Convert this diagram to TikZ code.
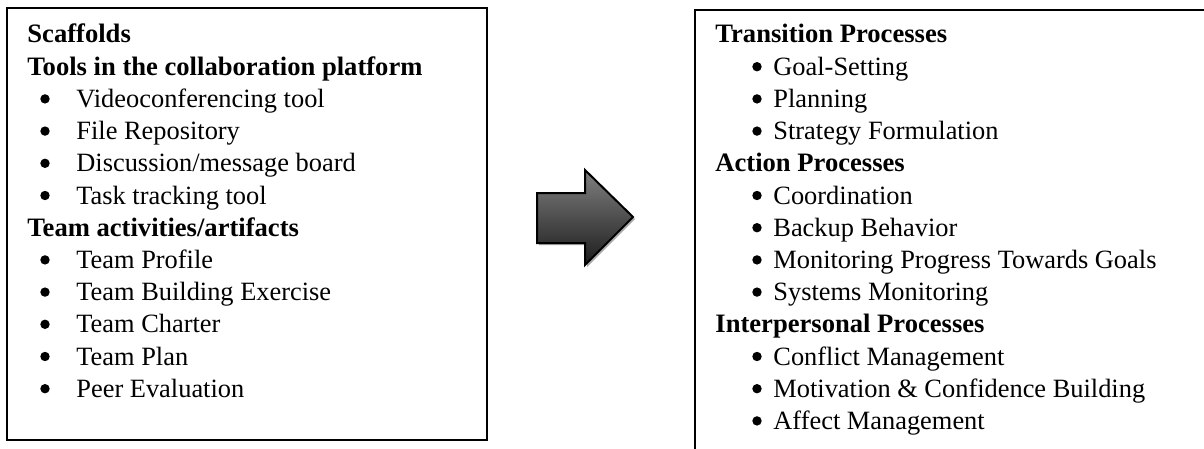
\documentclass[tikz,border=0pt]{standalone}
\usepackage{fontspec}
\setmainfont{Liberation Serif}
\usetikzlibrary{positioning}
\definecolor{arrowtop}{RGB}{128,128,128}
\definecolor{arrowbot}{RGB}{28,28,28}
\definecolor{shadowgray}{RGB}{170,170,170}

\begin{document}
\begin{tikzpicture}[x=0.5pt, y=-0.5pt,
  frame/.style={draw=black, line width=1.1pt},
  head/.style={anchor=base west, inner sep=0pt, font=\fontsize{13.3}{15}\selectfont\bfseries},
  item/.style={anchor=base west, inner sep=0pt, font=\fontsize{13.2}{15}\selectfont},
  dot/.style={circle, fill=black, inner sep=0pt, minimum size=4.7pt}]
  \useasboundingbox (0,0) rectangle (1204,449);
  % left box: scaffolds
  \draw[frame] (7,8) rectangle (487,440);
  \node[head] (scaf) at (27,43) {Scaffolds};
  \node[head] (tools) at (27,75.2) {Tools in the collaboration platform};
  \foreach \txt [count=\k] in {Videoconferencing tool, File Repository,
      Discussion/message board, Task tracking tool} {
    \node[dot] (tb\k) at (45,{34.5+32.2*(1+\k)}) {};
    \node[item] (tool\k) at (76,{43+32.2*(1+\k)}) {\txt};
  }
  \node[head] (team) at (27,236.2) {Team activities/artifacts};
  \foreach \txt [count=\k] in {Team Profile, Team Building Exercise,
      Team Charter, Team Plan, Peer Evaluation} {
    \node[dot] (ab\k) at (45,{34.5+32.2*(6+\k)}) {};
    \node[item] (act\k) at (76,{43+32.2*(6+\k)}) {\txt};
  }
  % block arrow
  \fill[shadowgray] (539,195) -- (587,195) -- (587,172) -- (635,219)
    -- (587,267) -- (587,245) -- (539,245) -- cycle;
  \path[draw=black, line width=1pt, top color=arrowtop, bottom color=arrowbot]
    (537,193) -- (585,193) -- (585,170) -- (633,217) -- (585,265)
    -- (585,243) -- (537,243) -- cycle;
  % right box: team processes (runs off the page)
  \draw[frame] (1204,10) -- (695,10) -- (695,449);
  \node[head] (trans) at (715,43) {Transition Processes};
  \foreach \txt [count=\k] in {Goal-Setting, Planning, Strategy Formulation} {
    \node[dot] (rb\k) at (757,{34.5+32.2*\k}) {};
    \node[item] (tr\k) at (773,{43+32.2*\k}) {\txt};
  }
  \node[head] (action) at (715,171.8) {Action Processes};
  \foreach \txt [count=\k] in {Coordination, Backup Behavior,
      Monitoring Progress Towards Goals, Systems Monitoring} {
    \node[dot] (cb\k) at (757,{34.5+32.2*(4+\k)}) {};
    \node[item] (ac\k) at (773,{43+32.2*(4+\k)}) {\txt};
  }
  \node[head] (inter) at (715,332.8) {Interpersonal Processes};
  \foreach \txt [count=\k] in {Conflict Management,
      Motivation \& Confidence Building, Affect Management} {
    \node[dot] (ib\k) at (757,{34.5+32.2*(9+\k)}) {};
    \node[item] (ip\k) at (773,{43+32.2*(9+\k)}) {\txt};
  }
\end{tikzpicture}
\end{document}
